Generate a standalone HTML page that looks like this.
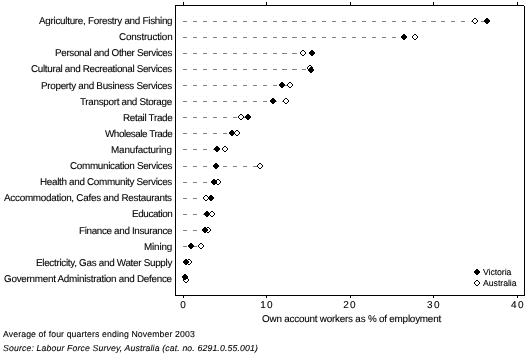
<!DOCTYPE html>
<html><head><meta charset="utf-8"><style>
html,body{margin:0;padding:0;background:#fff;width:529px;height:363px;overflow:hidden}
body{position:relative;-webkit-font-smoothing:antialiased;-webkit-text-stroke:0.1px #000;text-rendering:geometricPrecision;font-family:"Liberation Sans",sans-serif;color:#000}
svg{position:absolute;left:0;top:0}
.lab{position:absolute;will-change:transform;right:357px;font-size:9.9px;line-height:12px;white-space:nowrap;text-align:right}
.t{position:absolute;will-change:transform;white-space:nowrap}
.tick{position:absolute;will-change:transform;top:300px;font-size:10px;line-height:12px;width:30px;text-align:center}
</style></head><body>
<svg width="529" height="363" shape-rendering="crispEdges">
<rect x="175" y="5" width="349" height="1" fill="#000"/><rect x="175" y="5" width="1" height="291" fill="#000"/><rect x="175" y="295" width="350" height="1" fill="#000"/><rect x="524" y="6" width="1" height="290" fill="#000"/><rect x="183" y="2" width="1" height="3" fill="#000"/><rect x="183" y="296" width="1" height="2" fill="#000"/><rect x="266" y="2" width="1" height="3" fill="#000"/><rect x="266" y="296" width="1" height="2" fill="#000"/><rect x="350" y="2" width="1" height="3" fill="#000"/><rect x="350" y="296" width="1" height="2" fill="#000"/><rect x="433" y="2" width="1" height="3" fill="#000"/><rect x="433" y="296" width="1" height="2" fill="#000"/><rect x="517" y="2" width="1" height="3" fill="#000"/><rect x="517" y="296" width="1" height="2" fill="#000"/><rect x="183" y="21" width="4" height="1" fill="#808080"/><rect x="193" y="21" width="4" height="1" fill="#808080"/><rect x="203" y="21" width="4" height="1" fill="#808080"/><rect x="213" y="21" width="4" height="1" fill="#808080"/><rect x="223" y="21" width="4" height="1" fill="#808080"/><rect x="233" y="21" width="4" height="1" fill="#808080"/><rect x="243" y="21" width="4" height="1" fill="#808080"/><rect x="253" y="21" width="4" height="1" fill="#808080"/><rect x="263" y="21" width="4" height="1" fill="#808080"/><rect x="273" y="21" width="4" height="1" fill="#808080"/><rect x="282" y="21" width="5" height="1" fill="#808080"/><rect x="292" y="21" width="5" height="1" fill="#808080"/><rect x="302" y="21" width="4" height="1" fill="#808080"/><rect x="312" y="21" width="4" height="1" fill="#808080"/><rect x="322" y="21" width="4" height="1" fill="#808080"/><rect x="332" y="21" width="4" height="1" fill="#808080"/><rect x="342" y="21" width="4" height="1" fill="#808080"/><rect x="352" y="21" width="4" height="1" fill="#808080"/><rect x="362" y="21" width="4" height="1" fill="#808080"/><rect x="372" y="21" width="4" height="1" fill="#808080"/><rect x="382" y="21" width="4" height="1" fill="#808080"/><rect x="392" y="21" width="4" height="1" fill="#808080"/><rect x="402" y="21" width="4" height="1" fill="#808080"/><rect x="412" y="21" width="4" height="1" fill="#808080"/><rect x="422" y="21" width="4" height="1" fill="#808080"/><rect x="431" y="21" width="5" height="1" fill="#808080"/><rect x="441" y="21" width="4" height="1" fill="#808080"/><rect x="451" y="21" width="4" height="1" fill="#808080"/><rect x="461" y="21" width="4" height="1" fill="#808080"/><rect x="471" y="21" width="4" height="1" fill="#808080"/><rect x="481" y="21" width="4" height="1" fill="#808080"/><g><rect x="474" y="18" width="2" height="1" fill="#fff"/><rect x="473" y="19" width="4" height="1" fill="#fff"/><rect x="472" y="20" width="6" height="1" fill="#fff"/><rect x="472" y="21" width="6" height="1" fill="#fff"/><rect x="473" y="22" width="4" height="1" fill="#fff"/><rect x="474" y="23" width="2" height="1" fill="#fff"/><rect x="474" y="18" width="1" height="1" fill="#000"/><rect x="475" y="18" width="1" height="1" fill="#000"/><rect x="473" y="19" width="1" height="1" fill="#000"/><rect x="476" y="19" width="1" height="1" fill="#000"/><rect x="472" y="20" width="1" height="1" fill="#000"/><rect x="477" y="20" width="1" height="1" fill="#000"/><rect x="472" y="21" width="1" height="1" fill="#000"/><rect x="477" y="21" width="1" height="1" fill="#000"/><rect x="473" y="22" width="1" height="1" fill="#000"/><rect x="476" y="22" width="1" height="1" fill="#000"/><rect x="474" y="23" width="1" height="1" fill="#000"/><rect x="475" y="23" width="1" height="1" fill="#000"/></g><g fill="#000"><rect x="486" y="18" width="2" height="1"/><rect x="485" y="19" width="4" height="1"/><rect x="484" y="20" width="6" height="1"/><rect x="484" y="21" width="6" height="1"/><rect x="485" y="22" width="4" height="1"/><rect x="486" y="23" width="2" height="1"/></g><rect x="183" y="37" width="4" height="1" fill="#808080"/><rect x="193" y="37" width="4" height="1" fill="#808080"/><rect x="203" y="37" width="4" height="1" fill="#808080"/><rect x="213" y="37" width="4" height="1" fill="#808080"/><rect x="223" y="37" width="4" height="1" fill="#808080"/><rect x="233" y="37" width="4" height="1" fill="#808080"/><rect x="243" y="37" width="4" height="1" fill="#808080"/><rect x="253" y="37" width="4" height="1" fill="#808080"/><rect x="263" y="37" width="4" height="1" fill="#808080"/><rect x="273" y="37" width="4" height="1" fill="#808080"/><rect x="282" y="37" width="5" height="1" fill="#808080"/><rect x="292" y="37" width="5" height="1" fill="#808080"/><rect x="302" y="37" width="4" height="1" fill="#808080"/><rect x="312" y="37" width="4" height="1" fill="#808080"/><rect x="322" y="37" width="4" height="1" fill="#808080"/><rect x="332" y="37" width="4" height="1" fill="#808080"/><rect x="342" y="37" width="4" height="1" fill="#808080"/><rect x="352" y="37" width="4" height="1" fill="#808080"/><rect x="362" y="37" width="4" height="1" fill="#808080"/><rect x="372" y="37" width="4" height="1" fill="#808080"/><rect x="382" y="37" width="4" height="1" fill="#808080"/><rect x="392" y="37" width="4" height="1" fill="#808080"/><rect x="402" y="37" width="4" height="1" fill="#808080"/><rect x="412" y="37" width="3" height="1" fill="#808080"/><g><rect x="414" y="34" width="2" height="1" fill="#fff"/><rect x="413" y="35" width="4" height="1" fill="#fff"/><rect x="412" y="36" width="6" height="1" fill="#fff"/><rect x="412" y="37" width="6" height="1" fill="#fff"/><rect x="413" y="38" width="4" height="1" fill="#fff"/><rect x="414" y="39" width="2" height="1" fill="#fff"/><rect x="414" y="34" width="1" height="1" fill="#000"/><rect x="415" y="34" width="1" height="1" fill="#000"/><rect x="413" y="35" width="1" height="1" fill="#000"/><rect x="416" y="35" width="1" height="1" fill="#000"/><rect x="412" y="36" width="1" height="1" fill="#000"/><rect x="417" y="36" width="1" height="1" fill="#000"/><rect x="412" y="37" width="1" height="1" fill="#000"/><rect x="417" y="37" width="1" height="1" fill="#000"/><rect x="413" y="38" width="1" height="1" fill="#000"/><rect x="416" y="38" width="1" height="1" fill="#000"/><rect x="414" y="39" width="1" height="1" fill="#000"/><rect x="415" y="39" width="1" height="1" fill="#000"/></g><g fill="#000"><rect x="403" y="34" width="2" height="1"/><rect x="402" y="35" width="4" height="1"/><rect x="401" y="36" width="6" height="1"/><rect x="401" y="37" width="6" height="1"/><rect x="402" y="38" width="4" height="1"/><rect x="403" y="39" width="2" height="1"/></g><rect x="183" y="53" width="4" height="1" fill="#808080"/><rect x="193" y="53" width="4" height="1" fill="#808080"/><rect x="203" y="53" width="4" height="1" fill="#808080"/><rect x="213" y="53" width="4" height="1" fill="#808080"/><rect x="223" y="53" width="4" height="1" fill="#808080"/><rect x="233" y="53" width="4" height="1" fill="#808080"/><rect x="243" y="53" width="4" height="1" fill="#808080"/><rect x="253" y="53" width="4" height="1" fill="#808080"/><rect x="263" y="53" width="4" height="1" fill="#808080"/><rect x="273" y="53" width="4" height="1" fill="#808080"/><rect x="282" y="53" width="5" height="1" fill="#808080"/><rect x="292" y="53" width="5" height="1" fill="#808080"/><rect x="302" y="53" width="4" height="1" fill="#808080"/><g><rect x="302" y="50" width="2" height="1" fill="#fff"/><rect x="301" y="51" width="4" height="1" fill="#fff"/><rect x="300" y="52" width="6" height="1" fill="#fff"/><rect x="300" y="53" width="6" height="1" fill="#fff"/><rect x="301" y="54" width="4" height="1" fill="#fff"/><rect x="302" y="55" width="2" height="1" fill="#fff"/><rect x="302" y="50" width="1" height="1" fill="#000"/><rect x="303" y="50" width="1" height="1" fill="#000"/><rect x="301" y="51" width="1" height="1" fill="#000"/><rect x="304" y="51" width="1" height="1" fill="#000"/><rect x="300" y="52" width="1" height="1" fill="#000"/><rect x="305" y="52" width="1" height="1" fill="#000"/><rect x="300" y="53" width="1" height="1" fill="#000"/><rect x="305" y="53" width="1" height="1" fill="#000"/><rect x="301" y="54" width="1" height="1" fill="#000"/><rect x="304" y="54" width="1" height="1" fill="#000"/><rect x="302" y="55" width="1" height="1" fill="#000"/><rect x="303" y="55" width="1" height="1" fill="#000"/></g><g fill="#000"><rect x="311" y="50" width="2" height="1"/><rect x="310" y="51" width="4" height="1"/><rect x="309" y="52" width="6" height="1"/><rect x="309" y="53" width="6" height="1"/><rect x="310" y="54" width="4" height="1"/><rect x="311" y="55" width="2" height="1"/></g><rect x="183" y="69" width="4" height="1" fill="#808080"/><rect x="193" y="69" width="4" height="1" fill="#808080"/><rect x="203" y="69" width="4" height="1" fill="#808080"/><rect x="213" y="69" width="4" height="1" fill="#808080"/><rect x="223" y="69" width="4" height="1" fill="#808080"/><rect x="233" y="69" width="4" height="1" fill="#808080"/><rect x="243" y="69" width="4" height="1" fill="#808080"/><rect x="253" y="69" width="4" height="1" fill="#808080"/><rect x="263" y="69" width="4" height="1" fill="#808080"/><rect x="273" y="69" width="4" height="1" fill="#808080"/><rect x="282" y="69" width="5" height="1" fill="#808080"/><rect x="292" y="69" width="5" height="1" fill="#808080"/><rect x="302" y="69" width="4" height="1" fill="#808080"/><g><rect x="309" y="65" width="2" height="1" fill="#fff"/><rect x="308" y="66" width="4" height="1" fill="#fff"/><rect x="307" y="67" width="6" height="1" fill="#fff"/><rect x="307" y="68" width="6" height="1" fill="#fff"/><rect x="308" y="69" width="4" height="1" fill="#fff"/><rect x="309" y="70" width="2" height="1" fill="#fff"/><rect x="309" y="65" width="1" height="1" fill="#000"/><rect x="310" y="65" width="1" height="1" fill="#000"/><rect x="308" y="66" width="1" height="1" fill="#000"/><rect x="311" y="66" width="1" height="1" fill="#000"/><rect x="307" y="67" width="1" height="1" fill="#000"/><rect x="312" y="67" width="1" height="1" fill="#000"/><rect x="307" y="68" width="1" height="1" fill="#000"/><rect x="312" y="68" width="1" height="1" fill="#000"/><rect x="308" y="69" width="1" height="1" fill="#000"/><rect x="311" y="69" width="1" height="1" fill="#000"/><rect x="309" y="70" width="1" height="1" fill="#000"/><rect x="310" y="70" width="1" height="1" fill="#000"/></g><g fill="#000"><rect x="310" y="67" width="2" height="1"/><rect x="309" y="68" width="4" height="1"/><rect x="308" y="69" width="6" height="1"/><rect x="308" y="70" width="6" height="1"/><rect x="309" y="71" width="4" height="1"/><rect x="310" y="72" width="2" height="1"/></g><rect x="183" y="85" width="4" height="1" fill="#808080"/><rect x="193" y="85" width="4" height="1" fill="#808080"/><rect x="203" y="85" width="4" height="1" fill="#808080"/><rect x="213" y="85" width="4" height="1" fill="#808080"/><rect x="223" y="85" width="4" height="1" fill="#808080"/><rect x="233" y="85" width="4" height="1" fill="#808080"/><rect x="243" y="85" width="4" height="1" fill="#808080"/><rect x="253" y="85" width="4" height="1" fill="#808080"/><rect x="263" y="85" width="4" height="1" fill="#808080"/><rect x="273" y="85" width="4" height="1" fill="#808080"/><rect x="282" y="85" width="5" height="1" fill="#808080"/><g><rect x="289" y="82" width="2" height="1" fill="#fff"/><rect x="288" y="83" width="4" height="1" fill="#fff"/><rect x="287" y="84" width="6" height="1" fill="#fff"/><rect x="287" y="85" width="6" height="1" fill="#fff"/><rect x="288" y="86" width="4" height="1" fill="#fff"/><rect x="289" y="87" width="2" height="1" fill="#fff"/><rect x="289" y="82" width="1" height="1" fill="#000"/><rect x="290" y="82" width="1" height="1" fill="#000"/><rect x="288" y="83" width="1" height="1" fill="#000"/><rect x="291" y="83" width="1" height="1" fill="#000"/><rect x="287" y="84" width="1" height="1" fill="#000"/><rect x="292" y="84" width="1" height="1" fill="#000"/><rect x="287" y="85" width="1" height="1" fill="#000"/><rect x="292" y="85" width="1" height="1" fill="#000"/><rect x="288" y="86" width="1" height="1" fill="#000"/><rect x="291" y="86" width="1" height="1" fill="#000"/><rect x="289" y="87" width="1" height="1" fill="#000"/><rect x="290" y="87" width="1" height="1" fill="#000"/></g><g fill="#000"><rect x="281" y="82" width="2" height="1"/><rect x="280" y="83" width="4" height="1"/><rect x="279" y="84" width="6" height="1"/><rect x="279" y="85" width="6" height="1"/><rect x="280" y="86" width="4" height="1"/><rect x="281" y="87" width="2" height="1"/></g><rect x="183" y="101" width="4" height="1" fill="#808080"/><rect x="193" y="101" width="4" height="1" fill="#808080"/><rect x="203" y="101" width="4" height="1" fill="#808080"/><rect x="213" y="101" width="4" height="1" fill="#808080"/><rect x="223" y="101" width="4" height="1" fill="#808080"/><rect x="233" y="101" width="4" height="1" fill="#808080"/><rect x="243" y="101" width="4" height="1" fill="#808080"/><rect x="253" y="101" width="4" height="1" fill="#808080"/><rect x="263" y="101" width="4" height="1" fill="#808080"/><rect x="273" y="101" width="4" height="1" fill="#808080"/><rect x="282" y="101" width="4" height="1" fill="#808080"/><g><rect x="285" y="98" width="2" height="1" fill="#fff"/><rect x="284" y="99" width="4" height="1" fill="#fff"/><rect x="283" y="100" width="6" height="1" fill="#fff"/><rect x="283" y="101" width="6" height="1" fill="#fff"/><rect x="284" y="102" width="4" height="1" fill="#fff"/><rect x="285" y="103" width="2" height="1" fill="#fff"/><rect x="285" y="98" width="1" height="1" fill="#000"/><rect x="286" y="98" width="1" height="1" fill="#000"/><rect x="284" y="99" width="1" height="1" fill="#000"/><rect x="287" y="99" width="1" height="1" fill="#000"/><rect x="283" y="100" width="1" height="1" fill="#000"/><rect x="288" y="100" width="1" height="1" fill="#000"/><rect x="283" y="101" width="1" height="1" fill="#000"/><rect x="288" y="101" width="1" height="1" fill="#000"/><rect x="284" y="102" width="1" height="1" fill="#000"/><rect x="287" y="102" width="1" height="1" fill="#000"/><rect x="285" y="103" width="1" height="1" fill="#000"/><rect x="286" y="103" width="1" height="1" fill="#000"/></g><g fill="#000"><rect x="272" y="98" width="2" height="1"/><rect x="271" y="99" width="4" height="1"/><rect x="270" y="100" width="6" height="1"/><rect x="270" y="101" width="6" height="1"/><rect x="271" y="102" width="4" height="1"/><rect x="272" y="103" width="2" height="1"/></g><rect x="183" y="117" width="4" height="1" fill="#808080"/><rect x="193" y="117" width="4" height="1" fill="#808080"/><rect x="203" y="117" width="4" height="1" fill="#808080"/><rect x="213" y="117" width="4" height="1" fill="#808080"/><rect x="223" y="117" width="4" height="1" fill="#808080"/><rect x="233" y="117" width="4" height="1" fill="#808080"/><rect x="243" y="117" width="4" height="1" fill="#808080"/><g><rect x="240" y="114" width="2" height="1" fill="#fff"/><rect x="239" y="115" width="4" height="1" fill="#fff"/><rect x="238" y="116" width="6" height="1" fill="#fff"/><rect x="238" y="117" width="6" height="1" fill="#fff"/><rect x="239" y="118" width="4" height="1" fill="#fff"/><rect x="240" y="119" width="2" height="1" fill="#fff"/><rect x="240" y="114" width="1" height="1" fill="#000"/><rect x="241" y="114" width="1" height="1" fill="#000"/><rect x="239" y="115" width="1" height="1" fill="#000"/><rect x="242" y="115" width="1" height="1" fill="#000"/><rect x="238" y="116" width="1" height="1" fill="#000"/><rect x="243" y="116" width="1" height="1" fill="#000"/><rect x="238" y="117" width="1" height="1" fill="#000"/><rect x="243" y="117" width="1" height="1" fill="#000"/><rect x="239" y="118" width="1" height="1" fill="#000"/><rect x="242" y="118" width="1" height="1" fill="#000"/><rect x="240" y="119" width="1" height="1" fill="#000"/><rect x="241" y="119" width="1" height="1" fill="#000"/></g><g fill="#000"><rect x="247" y="114" width="2" height="1"/><rect x="246" y="115" width="4" height="1"/><rect x="245" y="116" width="6" height="1"/><rect x="245" y="117" width="6" height="1"/><rect x="246" y="118" width="4" height="1"/><rect x="247" y="119" width="2" height="1"/></g><rect x="183" y="133" width="4" height="1" fill="#808080"/><rect x="193" y="133" width="4" height="1" fill="#808080"/><rect x="203" y="133" width="4" height="1" fill="#808080"/><rect x="213" y="133" width="4" height="1" fill="#808080"/><rect x="223" y="133" width="4" height="1" fill="#808080"/><rect x="233" y="133" width="4" height="1" fill="#808080"/><g><rect x="236" y="130" width="2" height="1" fill="#fff"/><rect x="235" y="131" width="4" height="1" fill="#fff"/><rect x="234" y="132" width="6" height="1" fill="#fff"/><rect x="234" y="133" width="6" height="1" fill="#fff"/><rect x="235" y="134" width="4" height="1" fill="#fff"/><rect x="236" y="135" width="2" height="1" fill="#fff"/><rect x="236" y="130" width="1" height="1" fill="#000"/><rect x="237" y="130" width="1" height="1" fill="#000"/><rect x="235" y="131" width="1" height="1" fill="#000"/><rect x="238" y="131" width="1" height="1" fill="#000"/><rect x="234" y="132" width="1" height="1" fill="#000"/><rect x="239" y="132" width="1" height="1" fill="#000"/><rect x="234" y="133" width="1" height="1" fill="#000"/><rect x="239" y="133" width="1" height="1" fill="#000"/><rect x="235" y="134" width="1" height="1" fill="#000"/><rect x="238" y="134" width="1" height="1" fill="#000"/><rect x="236" y="135" width="1" height="1" fill="#000"/><rect x="237" y="135" width="1" height="1" fill="#000"/></g><g fill="#000"><rect x="231" y="130" width="2" height="1"/><rect x="230" y="131" width="4" height="1"/><rect x="229" y="132" width="6" height="1"/><rect x="229" y="133" width="6" height="1"/><rect x="230" y="134" width="4" height="1"/><rect x="231" y="135" width="2" height="1"/></g><rect x="183" y="149" width="4" height="1" fill="#808080"/><rect x="193" y="149" width="4" height="1" fill="#808080"/><rect x="203" y="149" width="4" height="1" fill="#808080"/><rect x="213" y="149" width="4" height="1" fill="#808080"/><rect x="223" y="149" width="2" height="1" fill="#808080"/><g><rect x="224" y="146" width="2" height="1" fill="#fff"/><rect x="223" y="147" width="4" height="1" fill="#fff"/><rect x="222" y="148" width="6" height="1" fill="#fff"/><rect x="222" y="149" width="6" height="1" fill="#fff"/><rect x="223" y="150" width="4" height="1" fill="#fff"/><rect x="224" y="151" width="2" height="1" fill="#fff"/><rect x="224" y="146" width="1" height="1" fill="#000"/><rect x="225" y="146" width="1" height="1" fill="#000"/><rect x="223" y="147" width="1" height="1" fill="#000"/><rect x="226" y="147" width="1" height="1" fill="#000"/><rect x="222" y="148" width="1" height="1" fill="#000"/><rect x="227" y="148" width="1" height="1" fill="#000"/><rect x="222" y="149" width="1" height="1" fill="#000"/><rect x="227" y="149" width="1" height="1" fill="#000"/><rect x="223" y="150" width="1" height="1" fill="#000"/><rect x="226" y="150" width="1" height="1" fill="#000"/><rect x="224" y="151" width="1" height="1" fill="#000"/><rect x="225" y="151" width="1" height="1" fill="#000"/></g><g fill="#000"><rect x="216" y="146" width="2" height="1"/><rect x="215" y="147" width="4" height="1"/><rect x="214" y="148" width="6" height="1"/><rect x="214" y="149" width="6" height="1"/><rect x="215" y="150" width="4" height="1"/><rect x="216" y="151" width="2" height="1"/></g><rect x="183" y="166" width="4" height="1" fill="#808080"/><rect x="193" y="166" width="4" height="1" fill="#808080"/><rect x="203" y="166" width="4" height="1" fill="#808080"/><rect x="213" y="166" width="4" height="1" fill="#808080"/><rect x="223" y="166" width="4" height="1" fill="#808080"/><rect x="233" y="166" width="4" height="1" fill="#808080"/><rect x="243" y="166" width="4" height="1" fill="#808080"/><rect x="253" y="166" width="4" height="1" fill="#808080"/><g><rect x="259" y="163" width="2" height="1" fill="#fff"/><rect x="258" y="164" width="4" height="1" fill="#fff"/><rect x="257" y="165" width="6" height="1" fill="#fff"/><rect x="257" y="166" width="6" height="1" fill="#fff"/><rect x="258" y="167" width="4" height="1" fill="#fff"/><rect x="259" y="168" width="2" height="1" fill="#fff"/><rect x="259" y="163" width="1" height="1" fill="#000"/><rect x="260" y="163" width="1" height="1" fill="#000"/><rect x="258" y="164" width="1" height="1" fill="#000"/><rect x="261" y="164" width="1" height="1" fill="#000"/><rect x="257" y="165" width="1" height="1" fill="#000"/><rect x="262" y="165" width="1" height="1" fill="#000"/><rect x="257" y="166" width="1" height="1" fill="#000"/><rect x="262" y="166" width="1" height="1" fill="#000"/><rect x="258" y="167" width="1" height="1" fill="#000"/><rect x="261" y="167" width="1" height="1" fill="#000"/><rect x="259" y="168" width="1" height="1" fill="#000"/><rect x="260" y="168" width="1" height="1" fill="#000"/></g><g fill="#000"><rect x="215" y="163" width="2" height="1"/><rect x="214" y="164" width="4" height="1"/><rect x="213" y="165" width="6" height="1"/><rect x="213" y="166" width="6" height="1"/><rect x="214" y="167" width="4" height="1"/><rect x="215" y="168" width="2" height="1"/></g><rect x="183" y="182" width="4" height="1" fill="#808080"/><rect x="193" y="182" width="4" height="1" fill="#808080"/><rect x="203" y="182" width="4" height="1" fill="#808080"/><rect x="213" y="182" width="4" height="1" fill="#808080"/><g><rect x="217" y="179" width="2" height="1" fill="#fff"/><rect x="216" y="180" width="4" height="1" fill="#fff"/><rect x="215" y="181" width="6" height="1" fill="#fff"/><rect x="215" y="182" width="6" height="1" fill="#fff"/><rect x="216" y="183" width="4" height="1" fill="#fff"/><rect x="217" y="184" width="2" height="1" fill="#fff"/><rect x="217" y="179" width="1" height="1" fill="#000"/><rect x="218" y="179" width="1" height="1" fill="#000"/><rect x="216" y="180" width="1" height="1" fill="#000"/><rect x="219" y="180" width="1" height="1" fill="#000"/><rect x="215" y="181" width="1" height="1" fill="#000"/><rect x="220" y="181" width="1" height="1" fill="#000"/><rect x="215" y="182" width="1" height="1" fill="#000"/><rect x="220" y="182" width="1" height="1" fill="#000"/><rect x="216" y="183" width="1" height="1" fill="#000"/><rect x="219" y="183" width="1" height="1" fill="#000"/><rect x="217" y="184" width="1" height="1" fill="#000"/><rect x="218" y="184" width="1" height="1" fill="#000"/></g><g fill="#000"><rect x="213" y="179" width="2" height="1"/><rect x="212" y="180" width="4" height="1"/><rect x="211" y="181" width="6" height="1"/><rect x="211" y="182" width="6" height="1"/><rect x="212" y="183" width="4" height="1"/><rect x="213" y="184" width="2" height="1"/></g><rect x="183" y="198" width="4" height="1" fill="#808080"/><rect x="193" y="198" width="4" height="1" fill="#808080"/><rect x="203" y="198" width="4" height="1" fill="#808080"/><g><rect x="205" y="195" width="2" height="1" fill="#fff"/><rect x="204" y="196" width="4" height="1" fill="#fff"/><rect x="203" y="197" width="6" height="1" fill="#fff"/><rect x="203" y="198" width="6" height="1" fill="#fff"/><rect x="204" y="199" width="4" height="1" fill="#fff"/><rect x="205" y="200" width="2" height="1" fill="#fff"/><rect x="205" y="195" width="1" height="1" fill="#000"/><rect x="206" y="195" width="1" height="1" fill="#000"/><rect x="204" y="196" width="1" height="1" fill="#000"/><rect x="207" y="196" width="1" height="1" fill="#000"/><rect x="203" y="197" width="1" height="1" fill="#000"/><rect x="208" y="197" width="1" height="1" fill="#000"/><rect x="203" y="198" width="1" height="1" fill="#000"/><rect x="208" y="198" width="1" height="1" fill="#000"/><rect x="204" y="199" width="1" height="1" fill="#000"/><rect x="207" y="199" width="1" height="1" fill="#000"/><rect x="205" y="200" width="1" height="1" fill="#000"/><rect x="206" y="200" width="1" height="1" fill="#000"/></g><g fill="#000"><rect x="210" y="195" width="2" height="1"/><rect x="209" y="196" width="4" height="1"/><rect x="208" y="197" width="6" height="1"/><rect x="208" y="198" width="6" height="1"/><rect x="209" y="199" width="4" height="1"/><rect x="210" y="200" width="2" height="1"/></g><rect x="183" y="214" width="4" height="1" fill="#808080"/><rect x="193" y="214" width="4" height="1" fill="#808080"/><rect x="203" y="214" width="4" height="1" fill="#808080"/><g><rect x="211" y="211" width="2" height="1" fill="#fff"/><rect x="210" y="212" width="4" height="1" fill="#fff"/><rect x="209" y="213" width="6" height="1" fill="#fff"/><rect x="209" y="214" width="6" height="1" fill="#fff"/><rect x="210" y="215" width="4" height="1" fill="#fff"/><rect x="211" y="216" width="2" height="1" fill="#fff"/><rect x="211" y="211" width="1" height="1" fill="#000"/><rect x="212" y="211" width="1" height="1" fill="#000"/><rect x="210" y="212" width="1" height="1" fill="#000"/><rect x="213" y="212" width="1" height="1" fill="#000"/><rect x="209" y="213" width="1" height="1" fill="#000"/><rect x="214" y="213" width="1" height="1" fill="#000"/><rect x="209" y="214" width="1" height="1" fill="#000"/><rect x="214" y="214" width="1" height="1" fill="#000"/><rect x="210" y="215" width="1" height="1" fill="#000"/><rect x="213" y="215" width="1" height="1" fill="#000"/><rect x="211" y="216" width="1" height="1" fill="#000"/><rect x="212" y="216" width="1" height="1" fill="#000"/></g><g fill="#000"><rect x="206" y="211" width="2" height="1"/><rect x="205" y="212" width="4" height="1"/><rect x="204" y="213" width="6" height="1"/><rect x="204" y="214" width="6" height="1"/><rect x="205" y="215" width="4" height="1"/><rect x="206" y="216" width="2" height="1"/></g><rect x="183" y="230" width="4" height="1" fill="#808080"/><rect x="193" y="230" width="4" height="1" fill="#808080"/><rect x="203" y="230" width="4" height="1" fill="#808080"/><g><rect x="207" y="227" width="2" height="1" fill="#fff"/><rect x="206" y="228" width="4" height="1" fill="#fff"/><rect x="205" y="229" width="6" height="1" fill="#fff"/><rect x="205" y="230" width="6" height="1" fill="#fff"/><rect x="206" y="231" width="4" height="1" fill="#fff"/><rect x="207" y="232" width="2" height="1" fill="#fff"/><rect x="207" y="227" width="1" height="1" fill="#000"/><rect x="208" y="227" width="1" height="1" fill="#000"/><rect x="206" y="228" width="1" height="1" fill="#000"/><rect x="209" y="228" width="1" height="1" fill="#000"/><rect x="205" y="229" width="1" height="1" fill="#000"/><rect x="210" y="229" width="1" height="1" fill="#000"/><rect x="205" y="230" width="1" height="1" fill="#000"/><rect x="210" y="230" width="1" height="1" fill="#000"/><rect x="206" y="231" width="1" height="1" fill="#000"/><rect x="209" y="231" width="1" height="1" fill="#000"/><rect x="207" y="232" width="1" height="1" fill="#000"/><rect x="208" y="232" width="1" height="1" fill="#000"/></g><g fill="#000"><rect x="204" y="227" width="2" height="1"/><rect x="203" y="228" width="4" height="1"/><rect x="202" y="229" width="6" height="1"/><rect x="202" y="230" width="6" height="1"/><rect x="203" y="231" width="4" height="1"/><rect x="204" y="232" width="2" height="1"/></g><rect x="183" y="246" width="4" height="1" fill="#808080"/><rect x="193" y="246" width="4" height="1" fill="#808080"/><g><rect x="200" y="243" width="2" height="1" fill="#fff"/><rect x="199" y="244" width="4" height="1" fill="#fff"/><rect x="198" y="245" width="6" height="1" fill="#fff"/><rect x="198" y="246" width="6" height="1" fill="#fff"/><rect x="199" y="247" width="4" height="1" fill="#fff"/><rect x="200" y="248" width="2" height="1" fill="#fff"/><rect x="200" y="243" width="1" height="1" fill="#000"/><rect x="201" y="243" width="1" height="1" fill="#000"/><rect x="199" y="244" width="1" height="1" fill="#000"/><rect x="202" y="244" width="1" height="1" fill="#000"/><rect x="198" y="245" width="1" height="1" fill="#000"/><rect x="203" y="245" width="1" height="1" fill="#000"/><rect x="198" y="246" width="1" height="1" fill="#000"/><rect x="203" y="246" width="1" height="1" fill="#000"/><rect x="199" y="247" width="1" height="1" fill="#000"/><rect x="202" y="247" width="1" height="1" fill="#000"/><rect x="200" y="248" width="1" height="1" fill="#000"/><rect x="201" y="248" width="1" height="1" fill="#000"/></g><g fill="#000"><rect x="190" y="243" width="2" height="1"/><rect x="189" y="244" width="4" height="1"/><rect x="188" y="245" width="6" height="1"/><rect x="188" y="246" width="6" height="1"/><rect x="189" y="247" width="4" height="1"/><rect x="190" y="248" width="2" height="1"/></g><rect x="183" y="262" width="4" height="1" fill="#808080"/><g><rect x="188" y="259" width="2" height="1" fill="#fff"/><rect x="187" y="260" width="4" height="1" fill="#fff"/><rect x="186" y="261" width="6" height="1" fill="#fff"/><rect x="186" y="262" width="6" height="1" fill="#fff"/><rect x="187" y="263" width="4" height="1" fill="#fff"/><rect x="188" y="264" width="2" height="1" fill="#fff"/><rect x="188" y="259" width="1" height="1" fill="#000"/><rect x="189" y="259" width="1" height="1" fill="#000"/><rect x="187" y="260" width="1" height="1" fill="#000"/><rect x="190" y="260" width="1" height="1" fill="#000"/><rect x="186" y="261" width="1" height="1" fill="#000"/><rect x="191" y="261" width="1" height="1" fill="#000"/><rect x="186" y="262" width="1" height="1" fill="#000"/><rect x="191" y="262" width="1" height="1" fill="#000"/><rect x="187" y="263" width="1" height="1" fill="#000"/><rect x="190" y="263" width="1" height="1" fill="#000"/><rect x="188" y="264" width="1" height="1" fill="#000"/><rect x="189" y="264" width="1" height="1" fill="#000"/></g><g fill="#000"><rect x="185" y="259" width="2" height="1"/><rect x="184" y="260" width="4" height="1"/><rect x="183" y="261" width="6" height="1"/><rect x="183" y="262" width="6" height="1"/><rect x="184" y="263" width="4" height="1"/><rect x="185" y="264" width="2" height="1"/></g><rect x="183" y="278" width="3" height="1" fill="#808080"/><g><rect x="185" y="277" width="2" height="1" fill="#fff"/><rect x="184" y="278" width="4" height="1" fill="#fff"/><rect x="183" y="279" width="6" height="1" fill="#fff"/><rect x="183" y="280" width="6" height="1" fill="#fff"/><rect x="184" y="281" width="4" height="1" fill="#fff"/><rect x="185" y="282" width="2" height="1" fill="#fff"/><rect x="185" y="277" width="1" height="1" fill="#000"/><rect x="186" y="277" width="1" height="1" fill="#000"/><rect x="184" y="278" width="1" height="1" fill="#000"/><rect x="187" y="278" width="1" height="1" fill="#000"/><rect x="183" y="279" width="1" height="1" fill="#000"/><rect x="188" y="279" width="1" height="1" fill="#000"/><rect x="183" y="280" width="1" height="1" fill="#000"/><rect x="188" y="280" width="1" height="1" fill="#000"/><rect x="184" y="281" width="1" height="1" fill="#000"/><rect x="187" y="281" width="1" height="1" fill="#000"/><rect x="185" y="282" width="1" height="1" fill="#000"/><rect x="186" y="282" width="1" height="1" fill="#000"/></g><g fill="#000"><rect x="184" y="274" width="2" height="1"/><rect x="183" y="275" width="4" height="1"/><rect x="182" y="276" width="6" height="1"/><rect x="182" y="277" width="6" height="1"/><rect x="183" y="278" width="4" height="1"/><rect x="184" y="279" width="2" height="1"/></g>
</svg>
<div class="lab" style="top:16px;letter-spacing:-0.284px">Agriculture, Forestry and Fishing</div><div class="lab" style="top:32px;letter-spacing:-0.164px">Construction</div><div class="lab" style="top:48px;letter-spacing:-0.338px">Personal and Other Services</div><div class="lab" style="top:64px;letter-spacing:-0.327px">Cultural and Recreational Services</div><div class="lab" style="top:81px;letter-spacing:-0.303px">Property and Business Services</div><div class="lab" style="top:97px;letter-spacing:-0.315px">Transport and Storage</div><div class="lab" style="top:113px;letter-spacing:-0.318px">Retail Trade</div><div class="lab" style="top:129px;letter-spacing:-0.45px">Wholesale Trade</div><div class="lab" style="top:145px;letter-spacing:-0.142px">Manufacturing</div><div class="lab" style="top:161px;letter-spacing:-0.319px">Communication Services</div><div class="lab" style="top:177px;letter-spacing:-0.314px">Health and Community Services</div><div class="lab" style="top:193px;letter-spacing:-0.264px">Accommodation, Cafes and Restaurants</div><div class="lab" style="top:209px;letter-spacing:-0.387px">Education</div><div class="lab" style="top:226px;letter-spacing:-0.345px">Finance and Insurance</div><div class="lab" style="top:242px;letter-spacing:-0.16px">Mining</div><div class="lab" style="top:258px;letter-spacing:-0.3px">Electricity, Gas and Water Supply</div><div class="lab" style="top:274px;letter-spacing:-0.272px">Government Administration and Defence</div>
<div class="tick" style="left:168px">0</div>
<div class="tick" style="left:251.5px;letter-spacing:1.2px">10</div>
<div class="tick" style="left:335px;letter-spacing:1.2px">20</div>
<div class="tick" style="left:418.5px;letter-spacing:1.5px">30</div>
<div class="tick" style="left:502.5px;letter-spacing:1.5px">40</div>
<div class="t" style="left:262px;top:314px;font-size:9.9px;line-height:12px;letter-spacing:-0.216px">Own account workers as % of employment</div>
<svg width="529" height="363" shape-rendering="crispEdges"><g fill="#000"><rect x="476" y="269" width="2" height="1"/><rect x="475" y="270" width="4" height="1"/><rect x="474" y="271" width="6" height="1"/><rect x="474" y="272" width="6" height="1"/><rect x="475" y="273" width="4" height="1"/><rect x="476" y="274" width="2" height="1"/></g><g><rect x="476" y="280" width="2" height="1" fill="#fff"/><rect x="475" y="281" width="4" height="1" fill="#fff"/><rect x="474" y="282" width="6" height="1" fill="#fff"/><rect x="474" y="283" width="6" height="1" fill="#fff"/><rect x="475" y="284" width="4" height="1" fill="#fff"/><rect x="476" y="285" width="2" height="1" fill="#fff"/><rect x="476" y="280" width="1" height="1" fill="#000"/><rect x="477" y="280" width="1" height="1" fill="#000"/><rect x="475" y="281" width="1" height="1" fill="#000"/><rect x="478" y="281" width="1" height="1" fill="#000"/><rect x="474" y="282" width="1" height="1" fill="#000"/><rect x="479" y="282" width="1" height="1" fill="#000"/><rect x="474" y="283" width="1" height="1" fill="#000"/><rect x="479" y="283" width="1" height="1" fill="#000"/><rect x="475" y="284" width="1" height="1" fill="#000"/><rect x="478" y="284" width="1" height="1" fill="#000"/><rect x="476" y="285" width="1" height="1" fill="#000"/><rect x="477" y="285" width="1" height="1" fill="#000"/></g></svg>
<div class="t" style="left:483px;top:266px;font-size:8.7px;line-height:12px;letter-spacing:-0.057px">Victoria</div>
<div class="t" style="left:483px;top:277px;font-size:8.7px;line-height:12px;letter-spacing:-0.025px">Australia</div>
<div class="t" style="left:3px;top:328px;font-size:8.7px;line-height:12px;letter-spacing:0.125px">Average of four quarters ending November 2003</div>
<div class="t" style="left:3px;top:342px;font-size:8.7px;line-height:12px;letter-spacing:0.145px;font-style:italic">Source: Labour Force Survey, Australia (cat. no. 6291.0.55.001)</div>
</body></html>
